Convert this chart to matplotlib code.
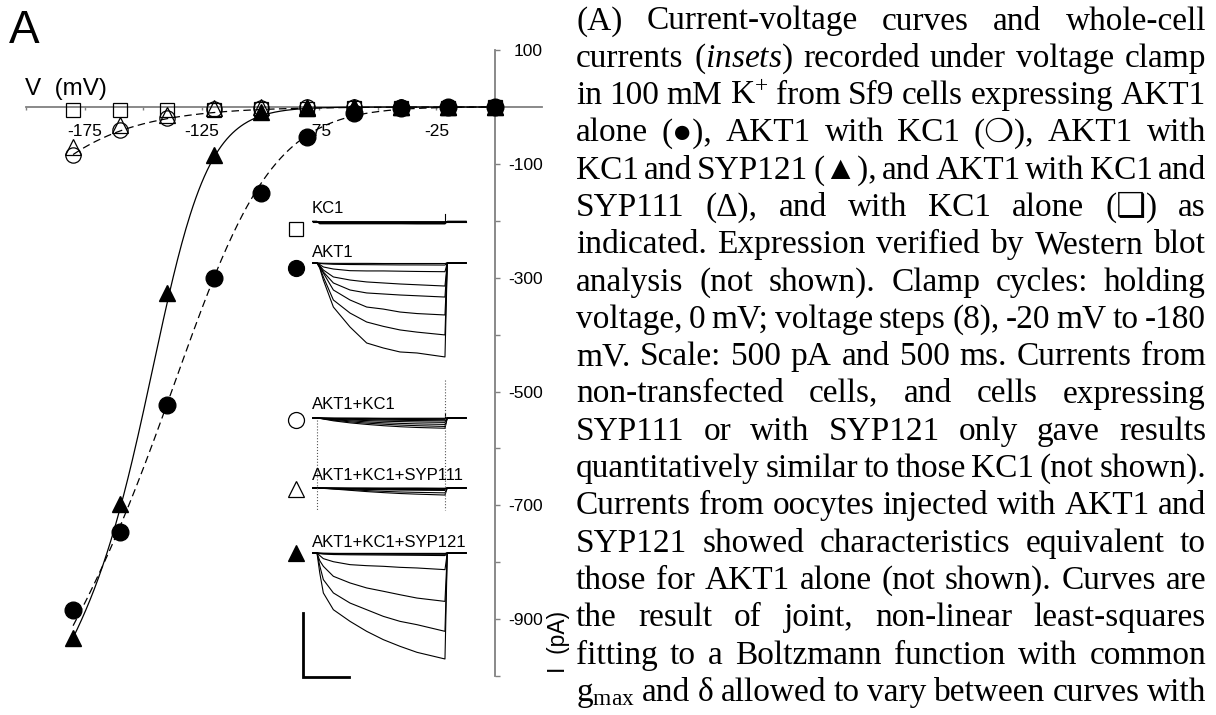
#!/usr/bin/python3

''' I-V curves for AKT1 with KC1 / SYP121 / SYP111, current insets and the figure caption. '''

import numpy as np
import matplotlib
matplotlib.use('Agg')
import matplotlib.pyplot as plt
from matplotlib.transforms import Affine2D

## I-V data (mV, pA)
voltage = [-180, -160, -140, -120, -100, -80, -60, -40, -20, 0]
i_kc1 = [-6, -6, -5, -6, -4, -3, -2, -2, -1, 0]
i_akt1_kc1 = [-84, -40, -20, -4, -1, 0, 0, 0, 0, 0]
i_akt1_kc1_syp111 = [-70, -32, -14, -2, 0, 0, 0, 0, 0, 0]
i_akt1 = [-884, -747, -524, -301, -151, -52, -11, -2, 0, 0]
i_akt1_kc1_syp121 = [-933, -698, -327, -84, -9, -2, 0, 0, 0, 0]

## Boltzmann fits: gmax (nS), V1/2 (mV), slope (mV)
fit_akt1 = [5.4, -123, 21]
fit_akt1_kc1 = [5.4, -258, 33]
fit_akt1_kc1_syp121 = [5.4, -142, 12]

x_ticks = [-175, -125, -75, -25]
x_minor = [-200, -150, -100, -50]
y_ticks = [100, -100, -300, -500, -700, -900]
y_minor = [0, -200, -400, -600, -800, -1000]

## inset traces: current (pA) at each time (ms) after the step onset
trace_t = [0, 30, 69, 178, 359, 540, 721, 902, 1087, 1391]
kc1_traces = [
    [0, 0, 0, 0, 0, 0, 0, 0, 0, 0],
    [0, -2, -2, -2, -2, -2, -2, -2, -2, -2],
    [0, -4, -4, -4, -4, -4, -4, -4, -4, -4],
    [0, -6, -6, -6, -6, -6, -6, -6, -6, -6],
    [0, -8, -8, -8, -8, -8, -8, -8, -8, -8],
    [0, -11, -11, -11, -11, -11, -11, -11, -11, -12],
    [0, -14, -14, -14, -14, -14, -15, -15, -15, -15],
    [0, -18, -18, -18, -18, -18, -18, -18, -19, -19],
]
akt1_traces = [
    [0, -1, -2, -3, -3, -3, -4, -4, -4, -4],
    [0, -3, -6, -10, -12, -13, -14, -15, -15, -16],
    [0, -12, -31, -47, -60, -62, -62, -64, -66, -68],
    [0, -20, -55, -109, -133, -148, -156, -164, -170, -180],
    [0, -25, -70, -156, -211, -234, -242, -250, -256, -266],
    [0, -30, -78, -211, -289, -344, -360, -383, -395, -406],
    [0, -35, -109, -289, -391, -461, -495, -523, -540, -562],
    [0, -40, -133, -344, -500, -625, -664, -695, -703, -734],
]
akt1_kc1_traces = [
    [0, 0, 0, -1, -1, -1, -2, -2, -2, -2],
    [0, 0, -1, -2, -3, -4, -5, -5, -6, -6],
    [0, -1, -2, -4, -6, -8, -10, -11, -12, -13],
    [0, -1, -3, -6, -10, -13, -16, -18, -20, -22],
    [0, -1, -4, -9, -15, -20, -25, -28, -31, -34],
    [0, -2, -5, -13, -22, -30, -37, -42, -46, -50],
    [0, -2, -6, -17, -30, -40, -48, -55, -60, -66],
    [0, -3, -8, -22, -38, -50, -60, -68, -74, -80],
]
syp111_traces = [
    [0, 0, 0, 0, -1, -1, -1, -1, -1, -2],
    [0, 0, -1, -1, -2, -2, -3, -3, -3, -4],
    [0, 0, -1, -2, -3, -4, -5, -6, -6, -7],
    [0, -1, -1, -3, -5, -6, -7, -8, -9, -10],
    [0, -1, -2, -4, -6, -8, -10, -11, -12, -14],
    [0, -1, -2, -5, -8, -11, -14, -16, -17, -19],
    [0, -1, -2, -6, -13, -20, -26, -31, -34, -38],
    [0, -1, -3, -8, -18, -28, -36, -43, -48, -55],
]
syp121_traces = [
    [0, -1, -2, -3, -3, -3, -3, -3, -3, -3],
    [0, -2, -3, -4, -5, -5, -6, -6, -6, -6],
    [0, -3, -5, -7, -8, -9, -9, -10, -10, -10],
    [0, -5, -8, -12, -14, -15, -16, -17, -18, -20],
    [0, -20, -44, -68, -91, -99, -104, -112, -117, -130],
    [0, -60, -104, -182, -234, -273, -299, -326, -352, -378],
    [0, -100, -208, -312, -391, -443, -495, -534, -560, -612],
    [0, -156, -312, -443, -534, -612, -677, -729, -776, -828],
]
inset_names = ['KC1', 'AKT1', 'AKT1+KC1', 'AKT1+KC1+SYP111', 'AKT1+KC1+SYP121']
end_spike = [62, 0, 40, 0, 0]  # pA, blip at the end of the step

caption = [
    "(A) Current-voltage curves and whole-cell",
    "currents ($\\mathit{insets}$) recorded under voltage clamp",
    "in 100 mM K$^{+}$ from Sf9 cells expressing AKT1",
    "alone (\u25cf), AKT1 with KC1 (\u274d), AKT1 with",
    "KC1 and SYP121 (\u25b2), and AKT1 with KC1 and",
    "SYP111 (\u0394), and with KC1 alone (\u2751) as",
    "indicated. Expression verified by Western blot",
    "analysis (not shown). Clamp cycles: holding",
    "voltage, 0 mV; voltage steps (8), -20 mV to -180",
    "mV. Scale: 500 pA and 500 ms. Currents from",
    "non-transfected cells, and cells expressing",
    "SYP111 or with SYP121 only gave results",
    "quantitatively similar to those KC1 (not shown).",
    "Currents from oocytes injected with AKT1 and",
    "SYP121 showed characteristics equivalent to",
    "those for AKT1 alone (not shown). Curves are",
    "the result of joint, non-linear least-squares",
    "fitting to a Boltzmann function with common",
    "g$_{\\mathrm{max}}$ and \u03b4 allowed to vary between curves with",
]

## layout (pixels of the 1216x715 picture)
FIG_W, FIG_H = 1216, 715
MS_PER_PX = 500 / 46.0
PA_PER_PX = 500 / 64.0
STEP_X = 317
inset_base_y = [221.5, 263, 418, 488, 553]
inset_label_y = [213, 257, 409, 480, 547]
inset_marker_y = [229, 268, 420, 489, 553]
inset_markers = [('s', 10, 'none'), ('o', 11.5, 'black'), ('o', 11.5, 'none'),
                 ('^', 12, 'none'), ('^', 12, 'black')]
CAP_X0, CAP_X1 = 576, 1206
CAP_BASE, CAP_STEP = 29.5, 37.3
CAP_SIZE = 24
SERIF = ['Liberation Serif', 'DejaVu Sans']

plt.rcParams['font.family'] = ['Liberation Sans', 'DejaVu Sans']
plt.rcParams['axes.unicode_minus'] = False
plt.rcParams['mathtext.fontset'] = 'custom'
plt.rcParams['mathtext.rm'] = 'Liberation Serif'
plt.rcParams['mathtext.it'] = 'Liberation Serif:italic'
plt.rcParams['mathtext.bf'] = 'Liberation Serif:bold'


def px_box(x0, y0, x1, y1):
    return [x0 / FIG_W, 1 - y1 / FIG_H, (x1 - x0) / FIG_W, (y1 - y0) / FIG_H]


def boltzmann(v, gmax, v_half, slope):
    return gmax * v / (1 + np.exp((v - v_half) / slope))


fig = plt.figure(figsize=(FIG_W / 100, FIG_H / 100), dpi=100)

## main I-V axes, crossing at the origin
ax = fig.add_axes(px_box(26.2, 50.1, 541.9, 676.0))
ax.set_xlim(-200, 20)
ax.set_ylim(-1000, 100)
ax.patch.set_visible(False)
for side in ['top', 'left']:
    ax.spines[side].set_visible(False)
ax.spines['bottom'].set_position(('data', 0))
ax.spines['right'].set_position(('data', 0))
for side in ['bottom', 'right']:
    ax.spines[side].set_color('#808080')
    ax.spines[side].set_linewidth(1.3)
ax.yaxis.tick_right()
ax.xaxis.tick_bottom()
ax.set_xticks(x_ticks)
ax.set_xticklabels([str(v) for v in x_ticks])
ax.set_xticks(x_minor, minor=True)
ax.set_yticks(y_ticks)
ax.set_yticklabels([str(v) for v in y_ticks])
ax.set_yticks(y_minor, minor=True)
ax.tick_params(axis='x', which='both', direction='out', length=2.5, width=1,
               color='#808080', pad=10, labelsize=12.5)
ax.tick_params(axis='y', which='both', direction='out', length=3.6, width=1,
               color='#808080', pad=31, labelsize=12.5)
plt.setp(ax.get_yticklabels(), ha='right')

v_fit = np.linspace(-180, 0, 300)
dash = (0, (6, 3.5))
ax.plot(v_fit, boltzmann(v_fit, *fit_akt1_kc1), color='black', lw=0.9, ls=dash, zorder=3)
ax.plot(v_fit, boltzmann(v_fit, *fit_akt1), color='black', lw=0.9, ls=dash, zorder=3)
ax.plot(v_fit, boltzmann(v_fit, *fit_akt1_kc1_syp121), color='black', lw=0.9, zorder=3)

ax.plot(voltage, i_kc1, 's', ms=9.5, mfc='none', mec='black', mew=0.9, zorder=4, clip_on=False)
ax.plot(voltage, i_akt1_kc1, 'o', ms=11, mfc='none', mec='black', mew=0.9, zorder=4, clip_on=False)
ax.plot(voltage, i_akt1_kc1_syp111, '^', ms=11, mfc='none', mec='black', mew=0.9, zorder=4, clip_on=False)
ax.plot(voltage, i_akt1, 'o', ms=12, color='black', zorder=5, clip_on=False)
ax.plot(voltage, i_akt1_kc1_syp121, '^', ms=12, color='black', zorder=6, clip_on=False)

## overlay in picture pixels for the insets, labels and caption
over = fig.add_axes([0, 0, 1, 1], zorder=5)
over.set_xlim(0, FIG_W)
over.set_ylim(FIG_H, 0)
over.axis('off')
over.patch.set_visible(False)

over.text(9, 43, 'A', fontsize=33, va='baseline', ha='left')
over.text(25, 95, 'V  (mV)', fontsize=17.5, va='baseline', ha='left')
over.text(559, 642, 'I  (pA)', fontsize=16.5, rotation=90, va='center', ha='center')


def inset_frame(base_y):
    return (Affine2D().scale(1 / MS_PER_PX, -1 / PA_PER_PX).translate(STEP_X, base_y)
            + over.transData)


all_traces = [kc1_traces, akt1_traces, akt1_kc1_traces, syp111_traces, syp121_traces]
for i, traces in enumerate(all_traces):
    tr = inset_frame(inset_base_y[i])
    for vals in traces:
        t = [-45] + trace_t + [trace_t[-1] + 25, 1620]
        cur = [0] + vals + [0, 0]
        over.plot(t, cur, color='black', lw=0.8, transform=tr, clip_on=False)
    if end_spike[i]:
        over.plot([trace_t[-1], trace_t[-1]], [0, end_spike[i]], color='black', lw=0.8,
                  transform=tr, clip_on=False)
    over.text(312, inset_label_y[i], inset_names[i], fontsize=12, va='baseline', ha='left')
    marker, size, face = inset_markers[i]
    over.plot(296, inset_marker_y[i], marker, ms=size, mfc=face, mec='black', mew=0.9,
              clip_on=False)

## dotted step marks through the AKT1+KC1 and SYP111 insets
tr = inset_frame(inset_base_y[2])
over.plot([0, 0], [-16, -719], color='#555555', lw=0.8, ls=':', transform=tr)
over.plot([trace_t[-1], trace_t[-1]], [297, -719], color='#555555', lw=0.8, ls=':', transform=tr)

## scale bar: 500 pA and 500 ms
tr = inset_frame(inset_base_y[4])
over.plot([-152, -152, 348], [-468, -968, -968], color='black', lw=2, transform=tr,
          solid_joinstyle='miter', clip_on=False)

## justified caption
renderer = fig.canvas.get_renderer()
for i, line in enumerate(caption):
    y = CAP_BASE + i * CAP_STEP
    words = line.split(' ')
    size = CAP_SIZE
    while True:
        arts = [over.text(0, y, w, fontsize=size, family=SERIF, va='baseline', ha='left')
                for w in words]
        widths = [a.get_window_extent(renderer).width for a in arts]
        gap = (CAP_X1 - CAP_X0 - sum(widths)) / max(len(words) - 1, 1)
        if gap >= 3 or size < 18:
            break
        for a in arts:
            a.remove()
        size -= 0.5
    x = CAP_X0
    for a, w in zip(arts, widths):
        a.set_x(x)
        x += w + gap

fig.savefig('out.png', dpi=100)
